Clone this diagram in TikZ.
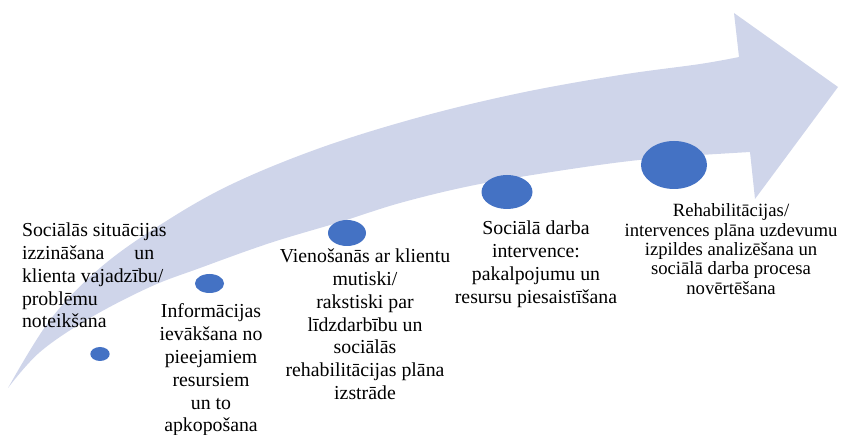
\documentclass[tikz,border=0pt]{standalone}
\usepackage{fontspec}
\setmainfont{Liberation Serif}
\usetikzlibrary{shapes.geometric}
\definecolor{bandc}{HTML}{CFD5EA}
\definecolor{dotc}{HTML}{4472C4}
\begin{document}
\begin{tikzpicture}[x=1pt,y=-1pt,
  lbl/.style={inner sep=0pt, outer sep=0pt, font=\fontsize{19.8}{22.8}\selectfont, align=center, anchor=north},
  lblsmall/.style={lbl, font=\fontsize{18.7}{19.3}\selectfont},
  dotn/.style={ellipse, fill=dotc, draw=none, inner sep=0pt}]
\useasboundingbox (0,0) rectangle (841,435);
% curved arrow band
\fill[bandc] plot[smooth, tension=0.6] coordinates {(8,388) (50,320) (100,268) (160,225) (230,185) (320,148) (420,117) (520,93) (620,75) (700,64) (739,57)}
  -- (734,13) -- (838,87) -- (755,199) -- (750,152)
  -- plot[smooth, tension=0.6] coordinates {(700,155) (630,161) (545,173) (470,186) (400,203) (340,222) (270,243) (200,268) (150,287) (90,318) (40,352) (8,388)}
  -- cycle;
% dots
\node[dotn, minimum width=19.4pt, minimum height=14pt] (d1) at (100,354) {};
\node[dotn, minimum width=29pt, minimum height=19pt] (d2) at (209.5,283.5) {};
\node[dotn, minimum width=38pt, minimum height=26pt] (d3) at (347,233) {};
\node[dotn, minimum width=51pt, minimum height=34pt] (d4) at (507,192) {};
\node[dotn, minimum width=66pt, minimum height=48pt] (d5) at (674,165) {};
% labels
\node[lbl, anchor=north west, align=left] (t1) at (22,223) {Sociālās situācijas\\izzināšana\hspace{30pt}un\\klienta vajadzību/\\problēmu\\noteikšana};
\node[lbl] (t2) at (211,304) {Informācijas\\ievākšana no\\pieejamiem\\resursiem\\un to\\apkopošana};
\node[lbl] (t3) at (365,249) {Vienošanās ar klientu\\mutiski/\\rakstiski par\\līdzdarbību un\\sociālās\\rehabilitācijas plāna\\izstrāde};
\node[lbl] (t4) at (536,221) {Sociālā darba\\intervence:\\pakalpojumu un\\resursu piesaistīšana};
\node[lblsmall] (t5) at (731,204) {Rehabilitācijas/\\intervences plāna uzdevumu\\izpildes analizēšana un\\sociālā darba procesa\\novērtēšana};
\end{tikzpicture}
\end{document}
